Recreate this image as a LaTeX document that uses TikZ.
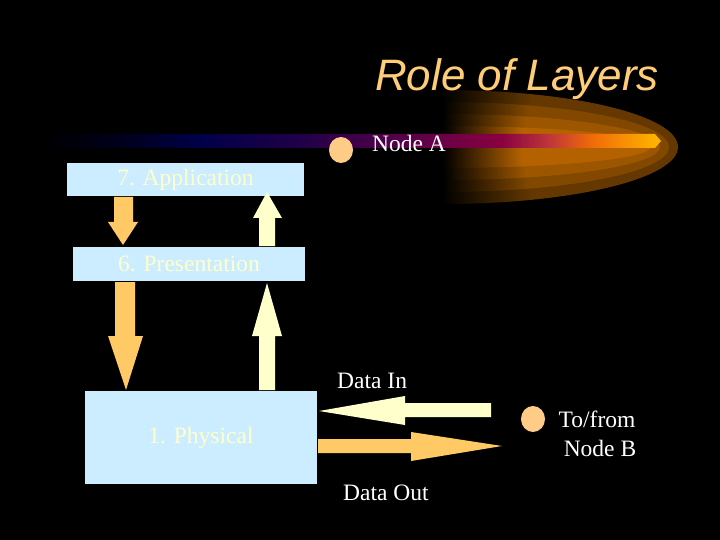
\documentclass[tikz,border=0pt]{standalone}
\usepackage{fontspec}
\setmainfont{Liberation Serif}
\newfontfamily\titlefont{Liberation Sans}
\usetikzlibrary{shapes.geometric}
\definecolor{boxblue}{HTML}{CCECFF}
\definecolor{boxtext}{HTML}{FFFFCC}
\definecolor{arrorange}{HTML}{FFC966}
\definecolor{arryellow}{HTML}{FFFFCC}
\definecolor{dotc}{HTML}{FFCC88}
\definecolor{titlec}{HTML}{FFCC77}
\definecolor{haloA}{HTML}{643800}
\definecolor{haloB}{HTML}{824800}
\definecolor{haloC}{HTML}{9C5600}
\definecolor{haloD}{HTML}{B46200}
\definecolor{bs1}{HTML}{000020}
\definecolor{bs2}{HTML}{000048}
\definecolor{bs3}{HTML}{200048}
\definecolor{bs4}{HTML}{600048}
\definecolor{bs5}{HTML}{880040}
\definecolor{bs6}{HTML}{C03838}
\definecolor{bs7}{HTML}{F06A08}
\definecolor{bs8}{HTML}{FFB800}
\colorlet{haloc}{haloA}
\pgfdeclarehorizontalshading{barshade}{100bp}{color(0bp)=(black); color(25bp)=(black); color(32.26bp)=(bs1); color(37.9bp)=(bs2); color(45.97bp)=(bs3); color(55.65bp)=(bs4); color(62.1bp)=(bs5); color(66.13bp)=(bs6); color(69.35bp)=(bs7); color(75bp)=(bs8); color(100bp)=(bs8)}
\pgfdeclarehorizontalshading[haloc]{halofade}{100bp}{color(0bp)=(black); color(25bp)=(black); color(44bp)=(haloc); color(100bp)=(haloc)}
\begin{document}
\begin{tikzpicture}[x=1pt,y=-1pt,
  layerbox/.style={fill=boxblue, draw=none, text=boxtext, font=\fontsize{23.5}{28}\selectfont, inner sep=0pt},
  lbl/.style={text=white, font=\fontsize{23.5}{28}\selectfont, inner sep=0pt},
  dotnode/.style={ellipse, fill=dotc, draw=none, minimum width=24pt, minimum height=26pt, inner sep=0pt},
  orangearrow/.style={fill=arrorange, draw=none},
  yellowarrow/.style={fill=arryellow, draw=none}]
\fill[black] (0,0) rectangle (720,540);
\useasboundingbox (0,0) rectangle (720,540);
% halo
\foreach \rx/\ry/\c in {235/57/haloA, 226/45/haloB, 217/33/haloC, 208/21/haloD}{
  \colorlet{haloc}{\c}
  \shade[shading=halofade]
    (443,147+\ry) arc[start angle=90, end angle=-90, x radius=\rx, y radius=\ry] -- cycle;
}
% bar
\shade[shading=barshade] (40,134) -- (655,134) -- (661,141) -- (655,148) -- (40,148) -- cycle;
% title
\node[anchor=base west, inner sep=0pt, text=titlec, font=\titlefont\itshape\fontsize{44}{50}\selectfont] (title) at (375,91) {Role of Layers};
% node A
\node[dotnode] (dotA) at (341,150) {};
\node[lbl, anchor=base west] (nodeA) at (372,152) {Node A};
% layer boxes
\node[layerbox, minimum width=237pt, minimum height=33pt] (app) at (185.5,179.5) {7. Application};
\node[layerbox, minimum width=232pt, minimum height=34pt] (pres) at (189,264) {6. Presentation};
\node[layerbox, minimum width=232pt, minimum height=93pt] (phys) at (201,437.5) {1. Physical};
% vertical arrows
\fill[orangearrow] (114,197) -- (133,197) -- (133,222) -- (138,222) -- (123,245) -- (108,222) -- (114,222) -- cycle;
\fill[yellowarrow] (259,246) -- (275,246) -- (275,218) -- (282,218) -- (267,192) -- (253,218) -- (259,218) -- cycle;
\fill[orangearrow] (115,282) -- (135,282) -- (135,336) -- (143,336) -- (126,390) -- (108,336) -- (115,336) -- cycle;
\fill[yellowarrow] (259,390) -- (275,390) -- (275,336) -- (282,336) -- (267,283) -- (252,336) -- (259,336) -- cycle;
% horizontal arrows
\fill[yellowarrow] (491,403) -- (491,417) -- (405,417) -- (405,425) -- (319,411) -- (405,396) -- (405,403) -- cycle;
\fill[orangearrow] (318,439) -- (411,439) -- (411,432) -- (502,446) -- (411,461) -- (411,453) -- (318,453) -- cycle;
% labels
\node[lbl, anchor=base west] (datain) at (337,388) {Data In};
\node[lbl, anchor=base west] (dataout) at (343,500) {Data Out};
\node[dotnode] (dotB) at (533,419) {};
\node[lbl, anchor=base] (tofrom) at (597,427) {To/from};
\node[lbl, anchor=base] (nodeB) at (600,456) {Node B};
\end{tikzpicture}
\end{document}
